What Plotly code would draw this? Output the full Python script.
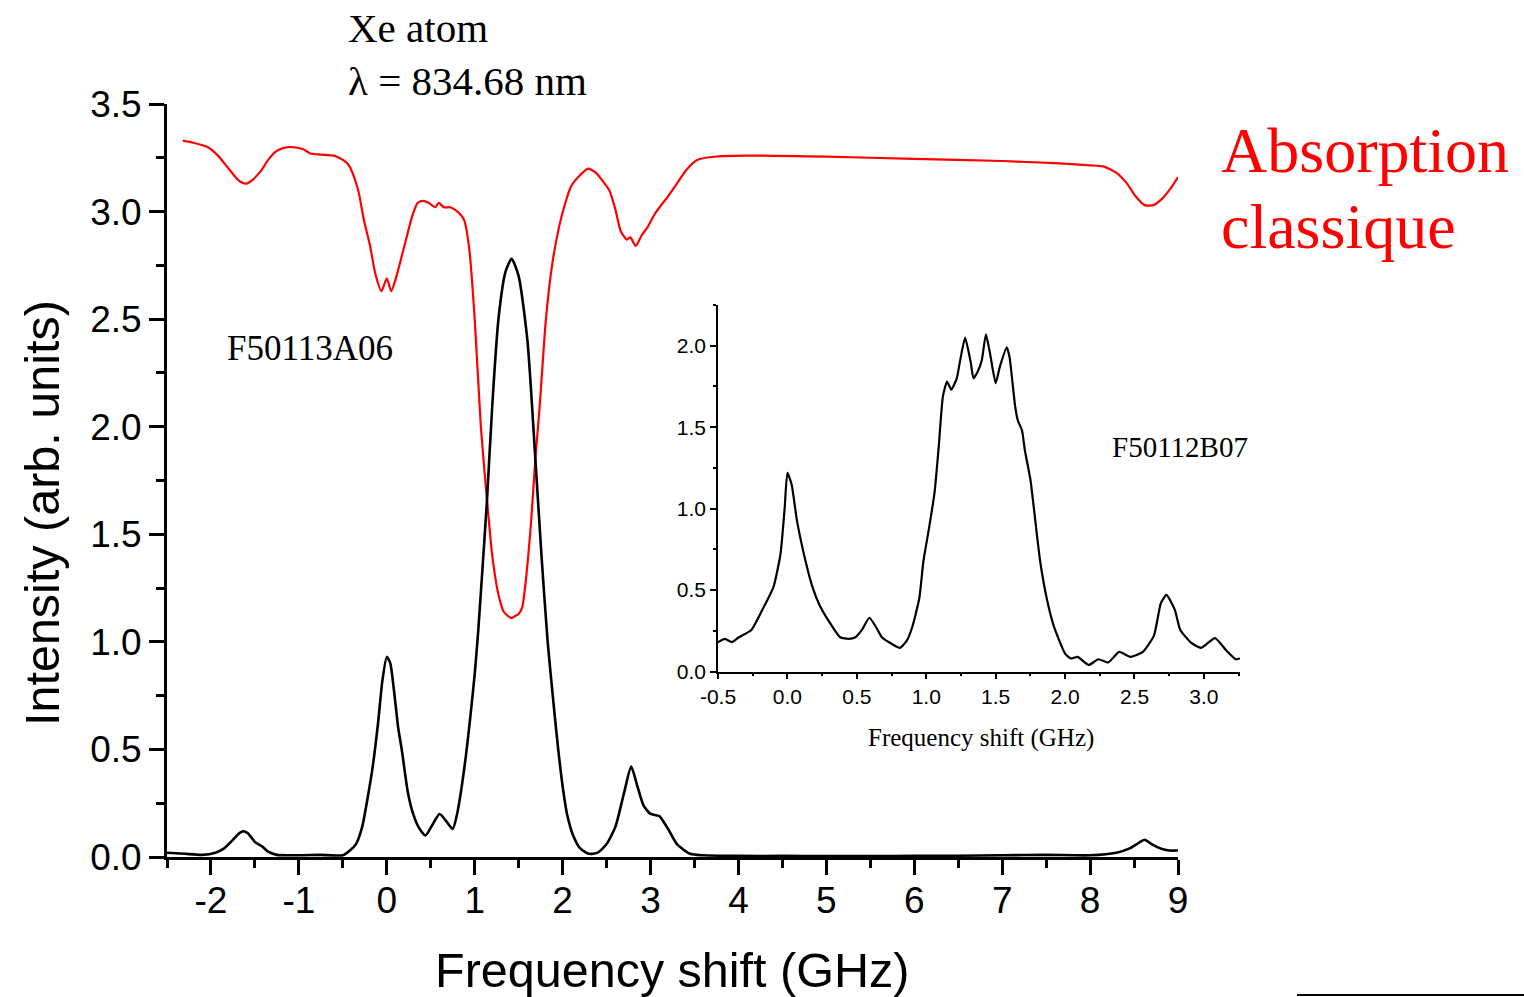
import plotly.graph_objects as go

# ---------------- data ----------------
# Main panel: fluorescence spectrum F50113A06 (black)
fluo_x = [-2.5, -2.3, -2.1, -1.95, -1.85, -1.75, -1.68, -1.63, -1.58, -1.5, -1.42, -1.35, -1.25,
          -1.0, -0.75, -0.5, -0.42, -0.35, -0.28, -0.22, -0.16, -0.1, -0.05, 0.0, 0.04, 0.08,
          0.13, 0.17, 0.24, 0.3, 0.36, 0.44, 0.52, 0.6, 0.67, 0.75, 0.8, 0.85, 0.9, 0.95, 1.0,
          1.04, 1.09, 1.14, 1.2, 1.27, 1.35, 1.42, 1.5, 1.6, 1.69, 1.76, 1.83, 1.9, 1.95, 2.0,
          2.05, 2.12, 2.2, 2.3, 2.4, 2.5, 2.6, 2.7, 2.78, 2.85, 2.92, 3.0, 3.1, 3.2, 3.3, 3.45,
          3.6, 4.0, 4.5, 5.0, 5.5, 6.0, 6.5, 7.0, 7.5, 8.0, 8.3, 8.45, 8.55, 8.62, 8.7, 8.8,
          8.9, 9.0]
fluo_y = [0.02, 0.015, 0.01, 0.02, 0.04, 0.08, 0.11, 0.12, 0.11, 0.07, 0.05, 0.025, 0.01,
          0.008, 0.01, 0.008, 0.03, 0.06, 0.14, 0.27, 0.42, 0.62, 0.82, 0.93, 0.9, 0.78,
          0.6, 0.5, 0.3, 0.2, 0.14, 0.10, 0.15, 0.20, 0.17, 0.13, 0.2, 0.32, 0.47, 0.65, 0.85,
          1.05, 1.35, 1.66, 2.1, 2.5, 2.72, 2.78, 2.7, 2.4, 1.85, 1.4, 1.0, 0.7, 0.5, 0.33,
          0.2, 0.1, 0.04, 0.015, 0.02, 0.06, 0.14, 0.3, 0.42, 0.33, 0.24, 0.2, 0.19, 0.13, 0.06, 0.015,
          0.008, 0.005, 0.005, 0.004, 0.004, 0.006, 0.006, 0.008, 0.01, 0.008, 0.02, 0.04, 0.065,
          0.08, 0.06, 0.04, 0.03, 0.03]

# Main panel: classical absorption spectrum (red)
abs_x = [-2.32, -2.2, -2.04, -1.92, -1.82, -1.72, -1.67, -1.6, -1.52, -1.43, -1.35, -1.26, -1.18,
         -1.08, -0.95, -0.87, -0.75, -0.6, -0.5, -0.44, -0.39, -0.32, -0.26, -0.19, -0.13, -0.06,
         0.0, 0.05, 0.11, 0.2, 0.29, 0.35, 0.41, 0.48, 0.55, 0.59, 0.65, 0.72, 0.77, 0.83, 0.88,
         0.94, 1.0, 1.07, 1.14, 1.2, 1.27, 1.33, 1.38, 1.42, 1.46, 1.5, 1.54, 1.58, 1.64, 1.69,
         1.74, 1.81, 1.88, 1.96, 2.03, 2.1, 2.2, 2.29, 2.38, 2.46, 2.53, 2.6, 2.66, 2.73, 2.77,
         2.83, 2.9, 2.97, 3.05, 3.14, 3.18, 3.3, 3.4, 3.53, 3.75, 4.1, 5.0, 6.0, 7.0, 7.6, 8.0,
         8.15, 8.3, 8.42, 8.52, 8.62, 8.72, 8.82, 8.92, 9.0]
abs_y = [3.33, 3.32, 3.30, 3.26, 3.21, 3.16, 3.14, 3.13, 3.15, 3.19, 3.24, 3.28, 3.295,
         3.30, 3.29, 3.27, 3.265, 3.26, 3.24, 3.22, 3.18, 3.09, 2.96, 2.84, 2.71, 2.63,
         2.69, 2.63, 2.70, 2.84, 2.98, 3.04, 3.05, 3.04, 3.02, 3.04, 3.02, 3.02, 3.01, 2.99, 2.96,
         2.82, 2.5, 2.0, 1.66, 1.4, 1.22, 1.14, 1.12, 1.11, 1.12, 1.13, 1.16, 1.28, 1.55, 1.85,
         2.1, 2.5, 2.75, 2.93, 3.04, 3.12, 3.17, 3.20, 3.18, 3.14, 3.10, 3.01, 2.91, 2.87, 2.88,
         2.84, 2.89, 2.93, 2.99, 3.04, 3.06, 3.13, 3.19, 3.24, 3.256, 3.26, 3.255, 3.245, 3.235, 3.225, 3.215,
         3.21, 3.18, 3.13, 3.07, 3.03, 3.03, 3.06, 3.11, 3.16]

# Inset: spectrum F50112B07 (black)
ins_x = [-0.5, -0.45, -0.4, -0.35, -0.26, -0.18, -0.1, -0.05, -0.02, 0.0, 0.03, 0.07, 0.13, 0.18,
         0.23, 0.29, 0.38, 0.44, 0.49, 0.54, 0.59, 0.64, 0.68, 0.75, 0.81, 0.86, 0.9, 0.95, 0.98,
         1.02, 1.06, 1.09, 1.12, 1.15, 1.18, 1.22, 1.24, 1.28, 1.32, 1.34, 1.37, 1.4, 1.43, 1.46,
         1.5, 1.53, 1.58, 1.6, 1.64, 1.66, 1.69, 1.71, 1.75, 1.82, 1.87, 1.92, 2.0, 2.04, 2.09,
         2.17, 2.24, 2.31, 2.39, 2.47, 2.56, 2.64, 2.69, 2.73, 2.79, 2.83, 2.91, 2.98, 3.08, 3.16,
         3.23, 3.26]
ins_y = [0.18, 0.2, 0.18, 0.21, 0.255, 0.38, 0.52, 0.72, 1.0, 1.22, 1.15, 0.92, 0.68, 0.52,
         0.41, 0.32, 0.21, 0.2, 0.21, 0.26, 0.33, 0.27, 0.21, 0.17, 0.145, 0.19, 0.275, 0.45, 0.68,
         0.88, 1.1, 1.38, 1.69, 1.78, 1.73, 1.80, 1.89, 2.05, 1.90, 1.80, 1.84, 1.91, 2.07, 1.95,
         1.77, 1.87, 1.99, 1.93, 1.63, 1.54, 1.48, 1.36, 1.18, 0.68, 0.44, 0.275, 0.11, 0.08, 0.09,
         0.04, 0.075, 0.055, 0.12, 0.09, 0.12, 0.22, 0.42, 0.47, 0.38, 0.255, 0.175, 0.145, 0.205, 0.13,
         0.075, 0.08]

main_xticks = [-2, -1, 0, 1, 2, 3, 4, 5, 6, 7, 8, 9]
main_yticks = [0.0, 0.5, 1.0, 1.5, 2.0, 2.5, 3.0, 3.5]
ins_xticks = [-0.5, 0.0, 0.5, 1.0, 1.5, 2.0, 2.5, 3.0]
ins_yticks = [0.0, 0.5, 1.0, 1.5, 2.0]

# ---------------- figure ----------------
W, H = 1524, 997
SANS = "Liberation Sans, Arial, Helvetica, sans-serif"
SERIF = "Liberation Serif, Times New Roman, Times, serif"


def px(x):
    return x / W


def py(y):
    return (H - y) / H


fig = go.Figure()
fig.add_trace(go.Scatter(x=abs_x, y=abs_y, mode="lines",
                         line=dict(color="#ff0000", width=2.2, shape="spline", smoothing=0.6),
                         xaxis="x", yaxis="y", showlegend=False))
fig.add_trace(go.Scatter(x=fluo_x, y=fluo_y, mode="lines",
                         line=dict(color="black", width=2.6, shape="spline", smoothing=0.6),
                         xaxis="x", yaxis="y", showlegend=False))
fig.add_trace(go.Scatter(x=ins_x, y=ins_y, mode="lines",
                         line=dict(color="black", width=2.2, shape="spline", smoothing=0.5),
                         xaxis="x2", yaxis="y2", showlegend=False))

main_axis = dict(showgrid=False, zeroline=False, showline=True, linecolor="black", linewidth=3,
                 ticks="outside", tickcolor="black", tickwidth=2.5, ticklen=15, automargin=False,
                 tickfont=dict(family=SANS, size=37, color="black"))
ins_axis = dict(showgrid=False, zeroline=False, showline=True, linecolor="black", linewidth=1.5,
                ticks="outside", tickcolor="black", tickwidth=1.5, ticklen=6, automargin=False,
                tickfont=dict(family=SANS, size=21, color="black"))

fig.update_layout(
    template="none",
    width=W, height=H, autosize=False,
    margin=dict(l=0, r=0, t=0, b=0, pad=0, autoexpand=False),
    paper_bgcolor="white", plot_bgcolor="rgba(0,0,0,0)", showlegend=False,
    xaxis=dict(main_axis, domain=[px(167), px(1178)], range=[-2.5, 9], tickvals=main_xticks,
               ticktext=[str(v) for v in main_xticks], anchor="y", ticklabelstandoff=-6,
               minor=dict(dtick=0.5, tick0=0, ticks="outside", ticklen=8, tickwidth=2.5, tickcolor="black")),
    yaxis=dict(main_axis, domain=[py(857), py(104)], range=[0, 3.5], tickvals=main_yticks,
               ticktext=[f"{v:.1f}" for v in main_yticks], anchor="x",
               minor=dict(dtick=0.25, tick0=0, ticks="outside", ticklen=8, tickwidth=2.5, tickcolor="black")),
    xaxis2=dict(ins_axis, domain=[px(718), px(1240)], range=[-0.5, 3.26], tickvals=ins_xticks,
                ticktext=[f"{v:.1f}" for v in ins_xticks], anchor="y2",
                minor=dict(dtick=0.25, tick0=0, ticks="outside", ticklen=3, tickwidth=1.5, tickcolor="black")),
    yaxis2=dict(ins_axis, domain=[py(671.5), py(305)], range=[0, 2.25], tickvals=ins_yticks,
                ticktext=[f"{v:.1f}" for v in ins_yticks], anchor="x2",
                minor=dict(dtick=0.25, tick0=0, ticks="outside", ticklen=3, tickwidth=1.5, tickcolor="black")),
)

ann = []


def add_text(text, x, y, size, family, color="black", xanchor="left", textangle=0):
    ann.append(dict(text=text, x=px(x), y=py(y), xref="paper", yref="paper", showarrow=False,
                    xanchor=xanchor, yanchor="middle", textangle=textangle,
                    font=dict(family=family, size=size, color=color)))


add_text("Xe atom", 346, 28, 41, SERIF)
add_text("λ = 834.68 nm", 346, 81, 41, SERIF)
add_text("Absorption", 1219, 150, 64, SERIF, color="#ff0000")
add_text("classique", 1219, 226, 64, SERIF, color="#ff0000")
add_text("F50113A06", 225, 349, 35, SERIF)
add_text("F50112B07", 1110, 447, 29, SERIF)
add_text("Frequency shift (GHz)", 981, 738, 25, SERIF, xanchor="center")
add_text("Frequency shift (GHz)", 672, 970, 48.5, SANS, xanchor="center")
add_text("Intensity (arb. units)", 42, 513, 48.5, SANS, xanchor="center", textangle=-90)
fig.update_layout(annotations=ann)

# small rule at the bottom right edge of the slide
fig.add_shape(type="line", xref="paper", yref="paper", x0=px(1297), x1=1.0, y0=py(995), y1=py(995),
              line=dict(color="black", width=2))

fig.write_html("out.html")
